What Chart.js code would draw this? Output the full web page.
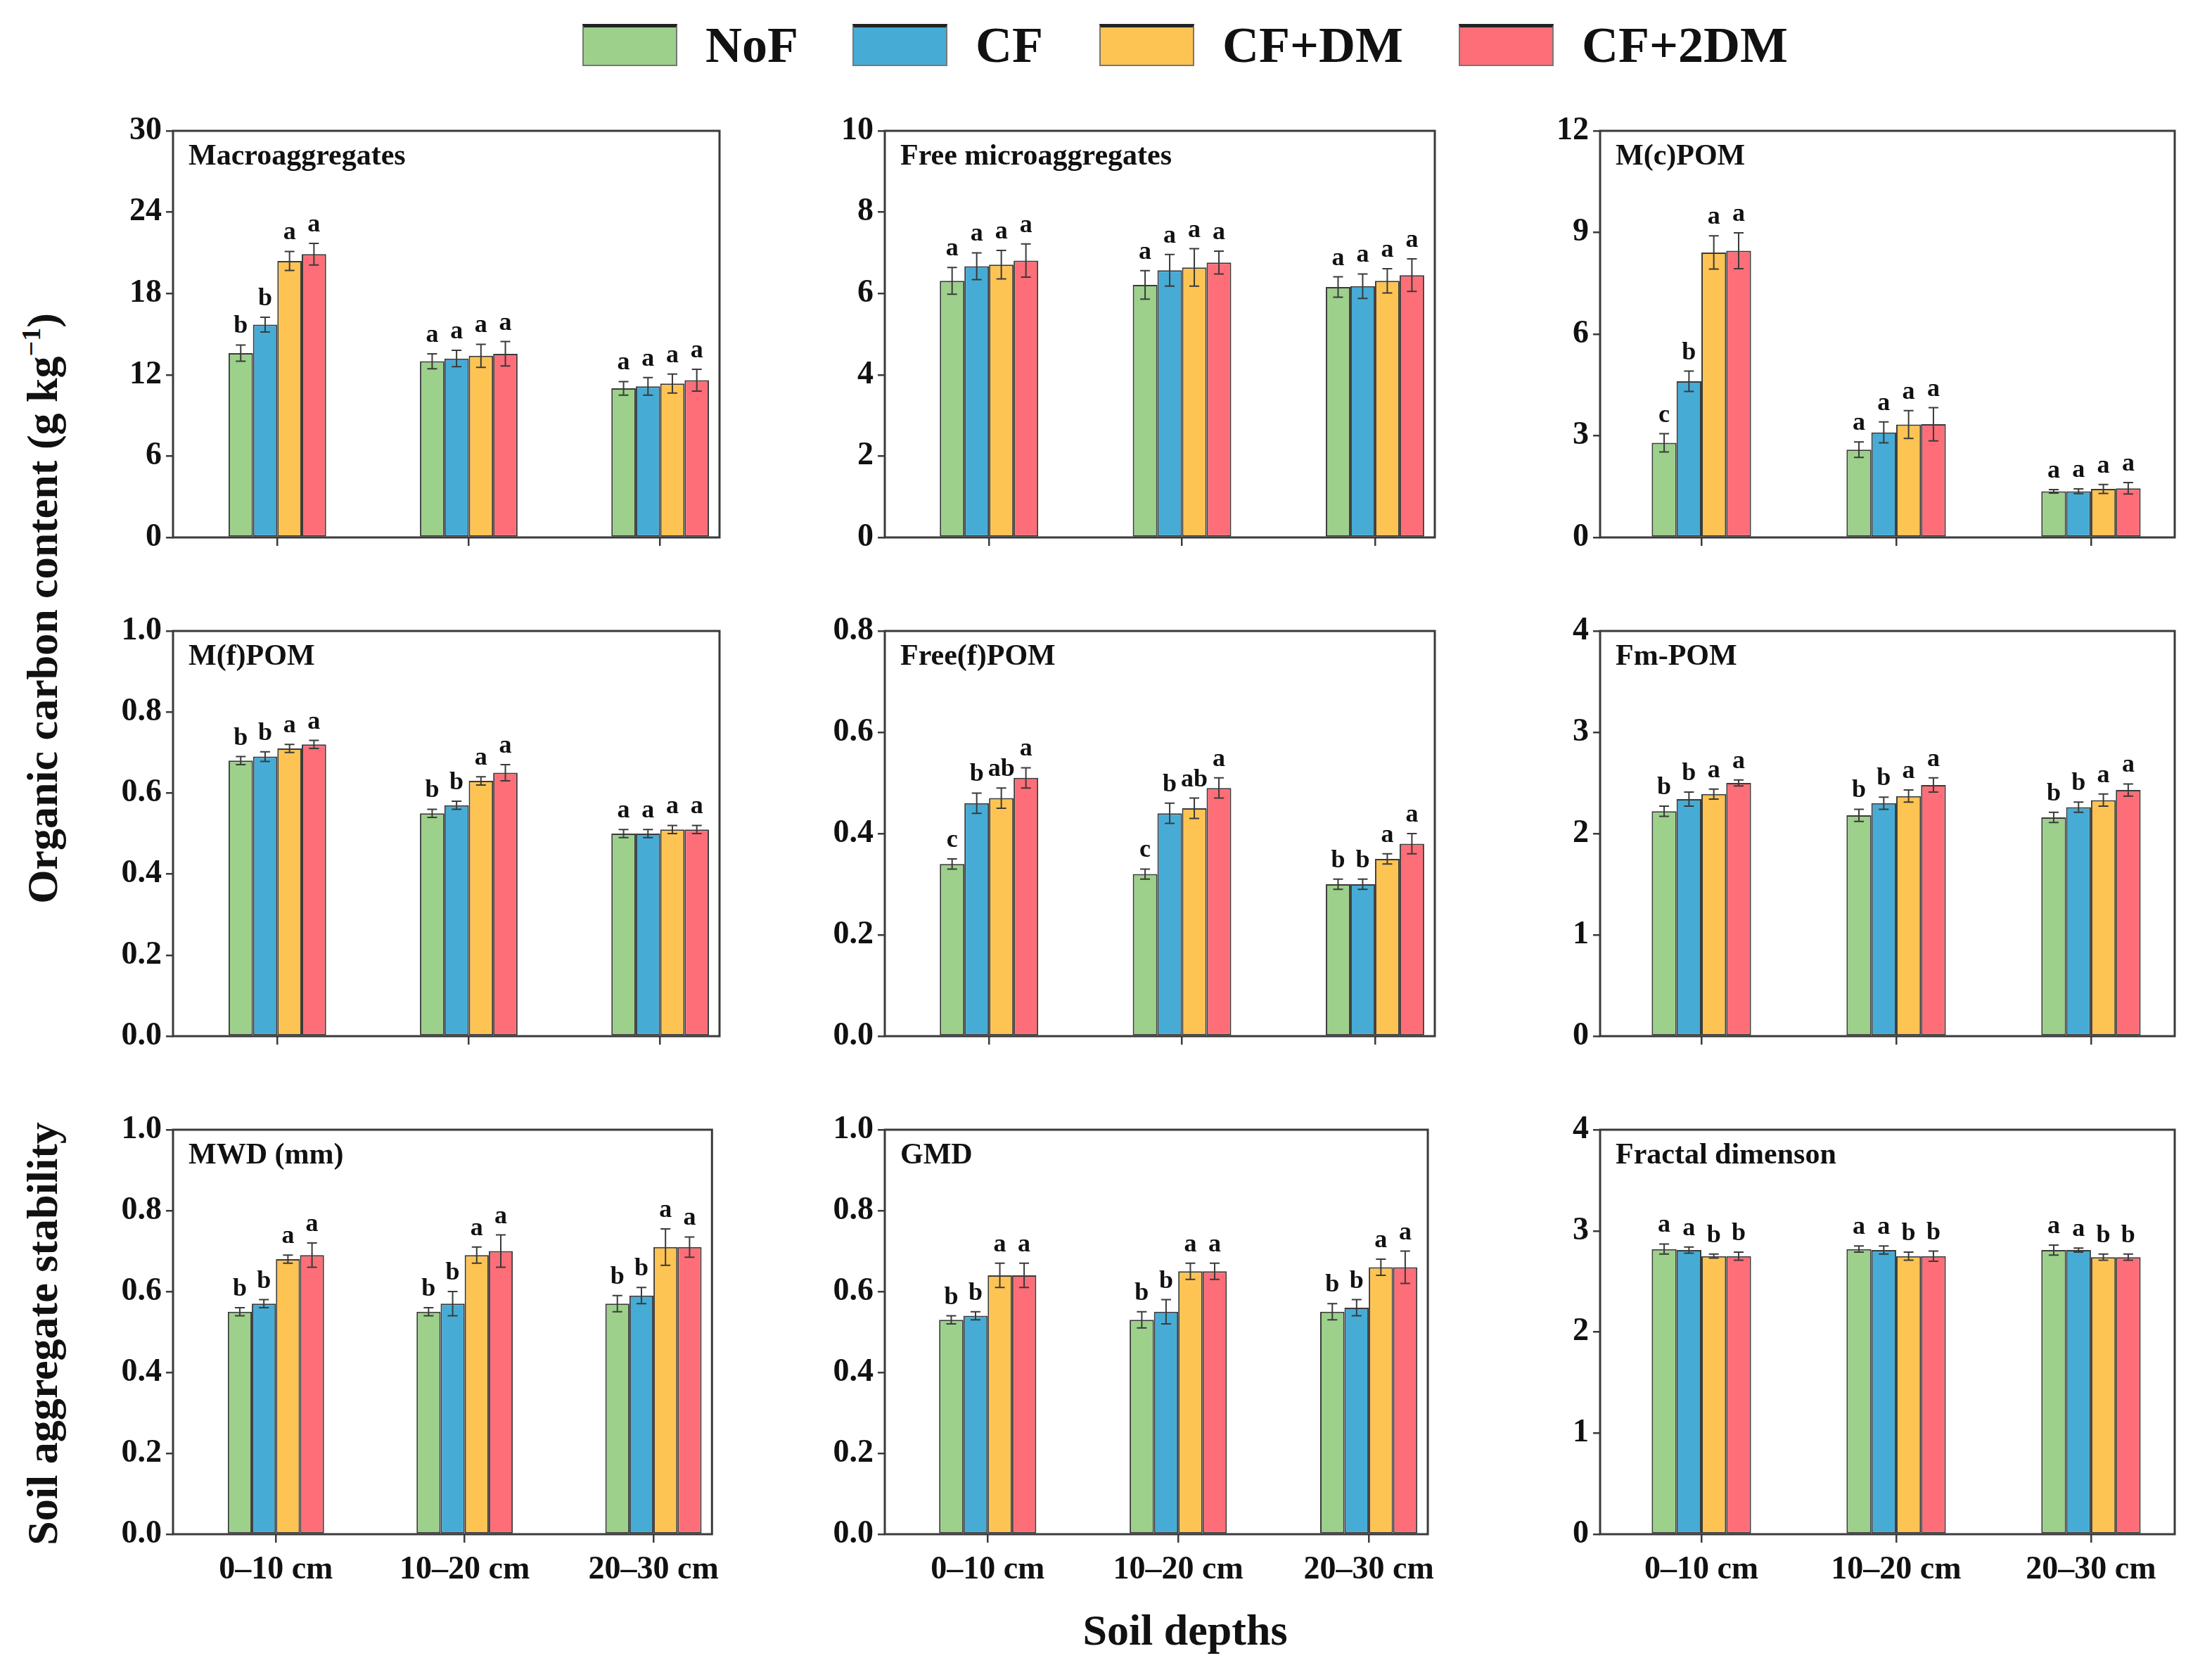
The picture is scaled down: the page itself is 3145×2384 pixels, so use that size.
<!DOCTYPE html>
<html>
<head>
<meta charset="utf-8">
<script src="https://cdn.jsdelivr.net/npm/chart.js@4.4.1/dist/chart.umd.min.js"></script>
<style>
  html, body { margin: 0; padding: 0; background: #fff; }
  body { width: 3145px; height: 2384px; position: relative; overflow: hidden;
         font-family: 'Liberation Serif', 'Times New Roman', serif; font-weight: bold; color: #111; }
  canvas { position: absolute; }
  .legend-item { position: absolute; top: 34px; height: 60px; display: flex; align-items: center; }
  .swatch { width: 135px; height: 60px; box-sizing: border-box; border: 2px solid #777; border-top: 5px solid #222; }
  .legend-label { margin-left: 40px; font-size: 72px; line-height: 60px; white-space: nowrap; }
  .title { position: absolute; font-size: 62px; white-space: nowrap; transform: translate(-50%, -50%); }
  .title.vert { transform: translate(-50%, -50%) rotate(-90deg); }
  sup { font-size: 38px; vertical-align: 24px; line-height: 0; }
</style>
</head>
<body>
<div id="legend"></div>
<div class="title vert" style="left:60px; top:865px;">Organic carbon content (g kg<sup>−1</sup>)</div>
<div class="title vert" style="left:60px; top:1896px;">Soil aggregate stability</div>
<div class="title" style="left:1685px; top:2317px;">Soil depths</div>
<script>
const depths = ['0–10 cm', '10–20 cm', '20–30 cm'];
const treatments = ['NoF', 'CF', 'CF+DM', 'CF+2DM'];
const fills = ['#9cd08b', '#46acd6', '#fec453', '#fe6e78'];

// each array: one row per treatment, one column per depth
const macroMean = [[13.6, 13.0, 11.0], [15.7, 13.2, 11.15], [20.4, 13.4, 11.35], [20.9, 13.55, 11.6]];
const macroErr = [[0.6, 0.55, 0.5], [0.55, 0.6, 0.65], [0.7, 0.85, 0.7], [0.8, 0.9, 0.8]];
const macroSig = [['b', 'a', 'a'], ['b', 'a', 'a'], ['a', 'a', 'a'], ['a', 'a', 'a']];

const microMean = [[6.31, 6.21, 6.16], [6.67, 6.57, 6.18], [6.71, 6.64, 6.31], [6.81, 6.76, 6.45]];
const microErr = [[0.33, 0.35, 0.25], [0.33, 0.39, 0.3], [0.35, 0.46, 0.3], [0.41, 0.28, 0.4]];
const microSig = [['a', 'a', 'a'], ['a', 'a', 'a'], ['a', 'a', 'a'], ['a', 'a', 'a']];

const mcPomMean = [[2.79, 2.59, 1.36], [4.61, 3.1, 1.36], [8.41, 3.33, 1.43], [8.46, 3.34, 1.45]];
const mcPomErr = [[0.27, 0.23, 0.05], [0.3, 0.31, 0.07], [0.49, 0.41, 0.13], [0.53, 0.49, 0.17]];
const mcPomSig = [['c', 'a', 'a'], ['b', 'a', 'a'], ['a', 'a', 'a'], ['a', 'a', 'a']];

const mfPomMean = [[0.68, 0.55, 0.5], [0.69, 0.57, 0.5], [0.71, 0.63, 0.51], [0.72, 0.65, 0.51]];
const mfPomErr = [[0.01, 0.01, 0.01], [0.012, 0.01, 0.01], [0.01, 0.01, 0.01], [0.01, 0.02, 0.01]];
const mfPomSig = [['b', 'b', 'a'], ['b', 'b', 'a'], ['a', 'a', 'a'], ['a', 'a', 'a']];

const ffPomMean = [[0.34, 0.32, 0.3], [0.46, 0.44, 0.3], [0.47, 0.45, 0.35], [0.51, 0.49, 0.38]];
const ffPomErr = [[0.01, 0.01, 0.01], [0.02, 0.02, 0.01], [0.02, 0.02, 0.01], [0.02, 0.02, 0.02]];
const ffPomSig = [['c', 'c', 'b'], ['b', 'b', 'b'], ['ab', 'ab', 'a'], ['a', 'a', 'a']];

const fmPomMean = [[2.22, 2.18, 2.16], [2.34, 2.3, 2.26], [2.39, 2.37, 2.33], [2.5, 2.48, 2.43]];
const fmPomErr = [[0.05, 0.06, 0.05], [0.07, 0.06, 0.05], [0.05, 0.06, 0.06], [0.03, 0.07, 0.06]];
const fmPomSig = [['b', 'b', 'b'], ['b', 'b', 'b'], ['a', 'a', 'a'], ['a', 'a', 'a']];

const mwdMean = [[0.55, 0.55, 0.57], [0.57, 0.57, 0.59], [0.68, 0.69, 0.71], [0.69, 0.7, 0.71]];
const mwdErr = [[0.01, 0.01, 0.02], [0.01, 0.03, 0.02], [0.01, 0.02, 0.045], [0.03, 0.04, 0.025]];
const mwdSig = [['b', 'b', 'b'], ['b', 'b', 'b'], ['a', 'a', 'a'], ['a', 'a', 'a']];

const gmdMean = [[0.53, 0.53, 0.55], [0.54, 0.55, 0.56], [0.64, 0.65, 0.66], [0.64, 0.65, 0.66]];
const gmdErr = [[0.01, 0.02, 0.02], [0.01, 0.03, 0.02], [0.03, 0.02, 0.02], [0.03, 0.02, 0.04]];
const gmdSig = [['b', 'b', 'b'], ['b', 'b', 'b'], ['a', 'a', 'a'], ['a', 'a', 'a']];

const fractalMean = [[2.82, 2.82, 2.81], [2.81, 2.81, 2.81], [2.75, 2.75, 2.74], [2.75, 2.75, 2.74]];
const fractalErr = [[0.05, 0.03, 0.05], [0.03, 0.04, 0.02], [0.02, 0.04, 0.03], [0.04, 0.05, 0.03]];
const fractalSig = [['a', 'a', 'a'], ['a', 'a', 'a'], ['b', 'b', 'b'], ['b', 'b', 'b']];

const panels = [
  { title: 'Macroaggregates', mean: macroMean, err: macroErr, sig: macroSig, max: 30, step: 6, dec: 0 },
  { title: 'Free microaggregates', mean: microMean, err: microErr, sig: microSig, max: 10, step: 2, dec: 0 },
  { title: 'M(c)POM', mean: mcPomMean, err: mcPomErr, sig: mcPomSig, max: 12, step: 3, dec: 0 },
  { title: 'M(f)POM', mean: mfPomMean, err: mfPomErr, sig: mfPomSig, max: 1, step: 0.2, dec: 1 },
  { title: 'Free(f)POM', mean: ffPomMean, err: ffPomErr, sig: ffPomSig, max: 0.8, step: 0.2, dec: 1 },
  { title: 'Fm-POM', mean: fmPomMean, err: fmPomErr, sig: fmPomSig, max: 4, step: 1, dec: 0 },
  { title: 'MWD (mm)', mean: mwdMean, err: mwdErr, sig: mwdSig, max: 1, step: 0.2, dec: 1 },
  { title: 'GMD', mean: gmdMean, err: gmdErr, sig: gmdSig, max: 1, step: 0.2, dec: 1 },
  { title: 'Fractal dimenson', mean: fractalMean, err: fractalErr, sig: fractalSig, max: 4, step: 1, dec: 0 },
];

// plot-area layout in page pixels
const rowTop = [186, 897, 1606];
const rowBottom = [764, 1473, 2181];
const colLeft = [246, 1258, 2275];
const colRight = [1023, 2040, 3092];
const colMin = [0.455, 0.46, 0.48];
const colMax = [3.31, 3.31, 3.43];

const yAxisWidth = 130;
const padTop = 36;
const padRight = 12;
const serif = "'Liberation Serif', 'Times New Roman', serif";
const ink = '#3a3a3a';

Chart.defaults.font.family = serif;
Chart.defaults.font.weight = 'bold';
Chart.defaults.color = '#111';

// legend
const legend = document.getElementById('legend');
const legendLeft = [828, 1212, 1563, 2074];
treatments.forEach((name, i) => {
  const item = document.createElement('div');
  item.className = 'legend-item';
  item.style.left = legendLeft[i] + 'px';
  item.innerHTML = `<div class="swatch" style="background:${fills[i]}"></div><div class="legend-label">${name}</div>`;
  legend.appendChild(item);
});

function panelDecor(panel) {
  return {
    id: 'panelDecor',
    afterDatasetsDraw(chart) {
      const { ctx, chartArea: a } = chart;
      const y = chart.scales.y;
      ctx.save();
      chart.data.datasets.forEach((ds, i) => {
        chart.getDatasetMeta(i).data.forEach((bar, j) => {
          const m = panel.mean[i][j];
          const e = panel.err[i][j];
          const yt = y.getPixelForValue(m + e);
          const yb = y.getPixelForValue(m - e);
          ctx.strokeStyle = ink;
          ctx.lineWidth = 2;
          ctx.beginPath();
          ctx.moveTo(bar.x, yt); ctx.lineTo(bar.x, yb);
          ctx.moveTo(bar.x - 7, yt); ctx.lineTo(bar.x + 7, yt);
          ctx.moveTo(bar.x - 7, yb); ctx.lineTo(bar.x + 7, yb);
          ctx.stroke();
          ctx.fillStyle = '#111';
          ctx.font = `bold 36px ${serif}`;
          ctx.textAlign = 'center';
          ctx.textBaseline = 'alphabetic';
          ctx.fillText(panel.sig[i][j], bar.x, yt - 17);
        });
      });
      ctx.strokeStyle = ink;
      ctx.lineWidth = 3;
      ctx.strokeRect(a.left, a.top, a.right - a.left, a.bottom - a.top);
      ctx.fillStyle = '#111';
      ctx.font = `bold 42px ${serif}`;
      ctx.textAlign = 'left';
      ctx.textBaseline = 'top';
      ctx.fillText(panel.title, a.left + 22, a.top + 16);
      ctx.restore();
    },
  };
}

panels.forEach((panel, k) => {
  const row = Math.floor(k / 3);
  const col = k % 3;
  const bottomRow = row === 2;
  const xAxisHeight = bottomRow ? 90 : 36;

  const canvas = document.createElement('canvas');
  const width = colRight[col] - colLeft[col] + yAxisWidth + padRight;
  const height = rowBottom[row] - rowTop[row] + padTop + xAxisHeight;
  canvas.width = width;
  canvas.height = height;
  canvas.style.left = (colLeft[col] - yAxisWidth) + 'px';
  canvas.style.top = (rowTop[row] - padTop) + 'px';
  canvas.style.width = width + 'px';
  canvas.style.height = height + 'px';
  document.body.appendChild(canvas);

  new Chart(canvas, {
    type: 'bar',
    data: {
      datasets: treatments.map((name, i) => ({
        label: name,
        data: panel.mean[i].map((v, j) => ({ x: j + 1, y: v })),
        backgroundColor: fills[i],
        borderColor: ink,
        borderWidth: 2,
        borderSkipped: false,
        categoryPercentage: 0.51,
        barPercentage: 1.0,
      })),
    },
    options: {
      responsive: false,
      animation: false,
      devicePixelRatio: 1,
      layout: { padding: { top: padTop, right: padRight, left: 0, bottom: 0 } },
      plugins: { legend: { display: false }, tooltip: { enabled: false } },
      scales: {
        x: {
          type: 'linear',
          min: colMin[col],
          max: colMax[col],
          offset: false,
          afterBuildTicks: scale => { scale.ticks = depths.map((_, j) => ({ value: j + 1 })); },
          afterFit: scale => { scale.height = xAxisHeight; },
          ticks: {
            display: bottomRow,
            autoSkip: false,
            maxRotation: 0,
            padding: 12,
            font: { size: 46, weight: 'bold' },
            callback: (value, index) => depths[index],
          },
          grid: { offset: false, drawOnChartArea: false, drawTicks: true, tickLength: 12, color: ink, lineWidth: 2.5 },
          border: { display: false },
        },
        y: {
          min: 0,
          max: panel.max,
          afterFit: scale => { scale.width = yAxisWidth; },
          ticks: {
            stepSize: panel.step,
            padding: 6,
            font: { size: 46, weight: 'bold' },
            callback: value => Number(value).toFixed(panel.dec),
          },
          grid: { drawOnChartArea: false, drawTicks: true, tickLength: 10, color: ink, lineWidth: 2.5 },
          border: { display: false },
        },
      },
    },
    plugins: [panelDecor(panel)],
  });
});
</script>
</body>
</html>
